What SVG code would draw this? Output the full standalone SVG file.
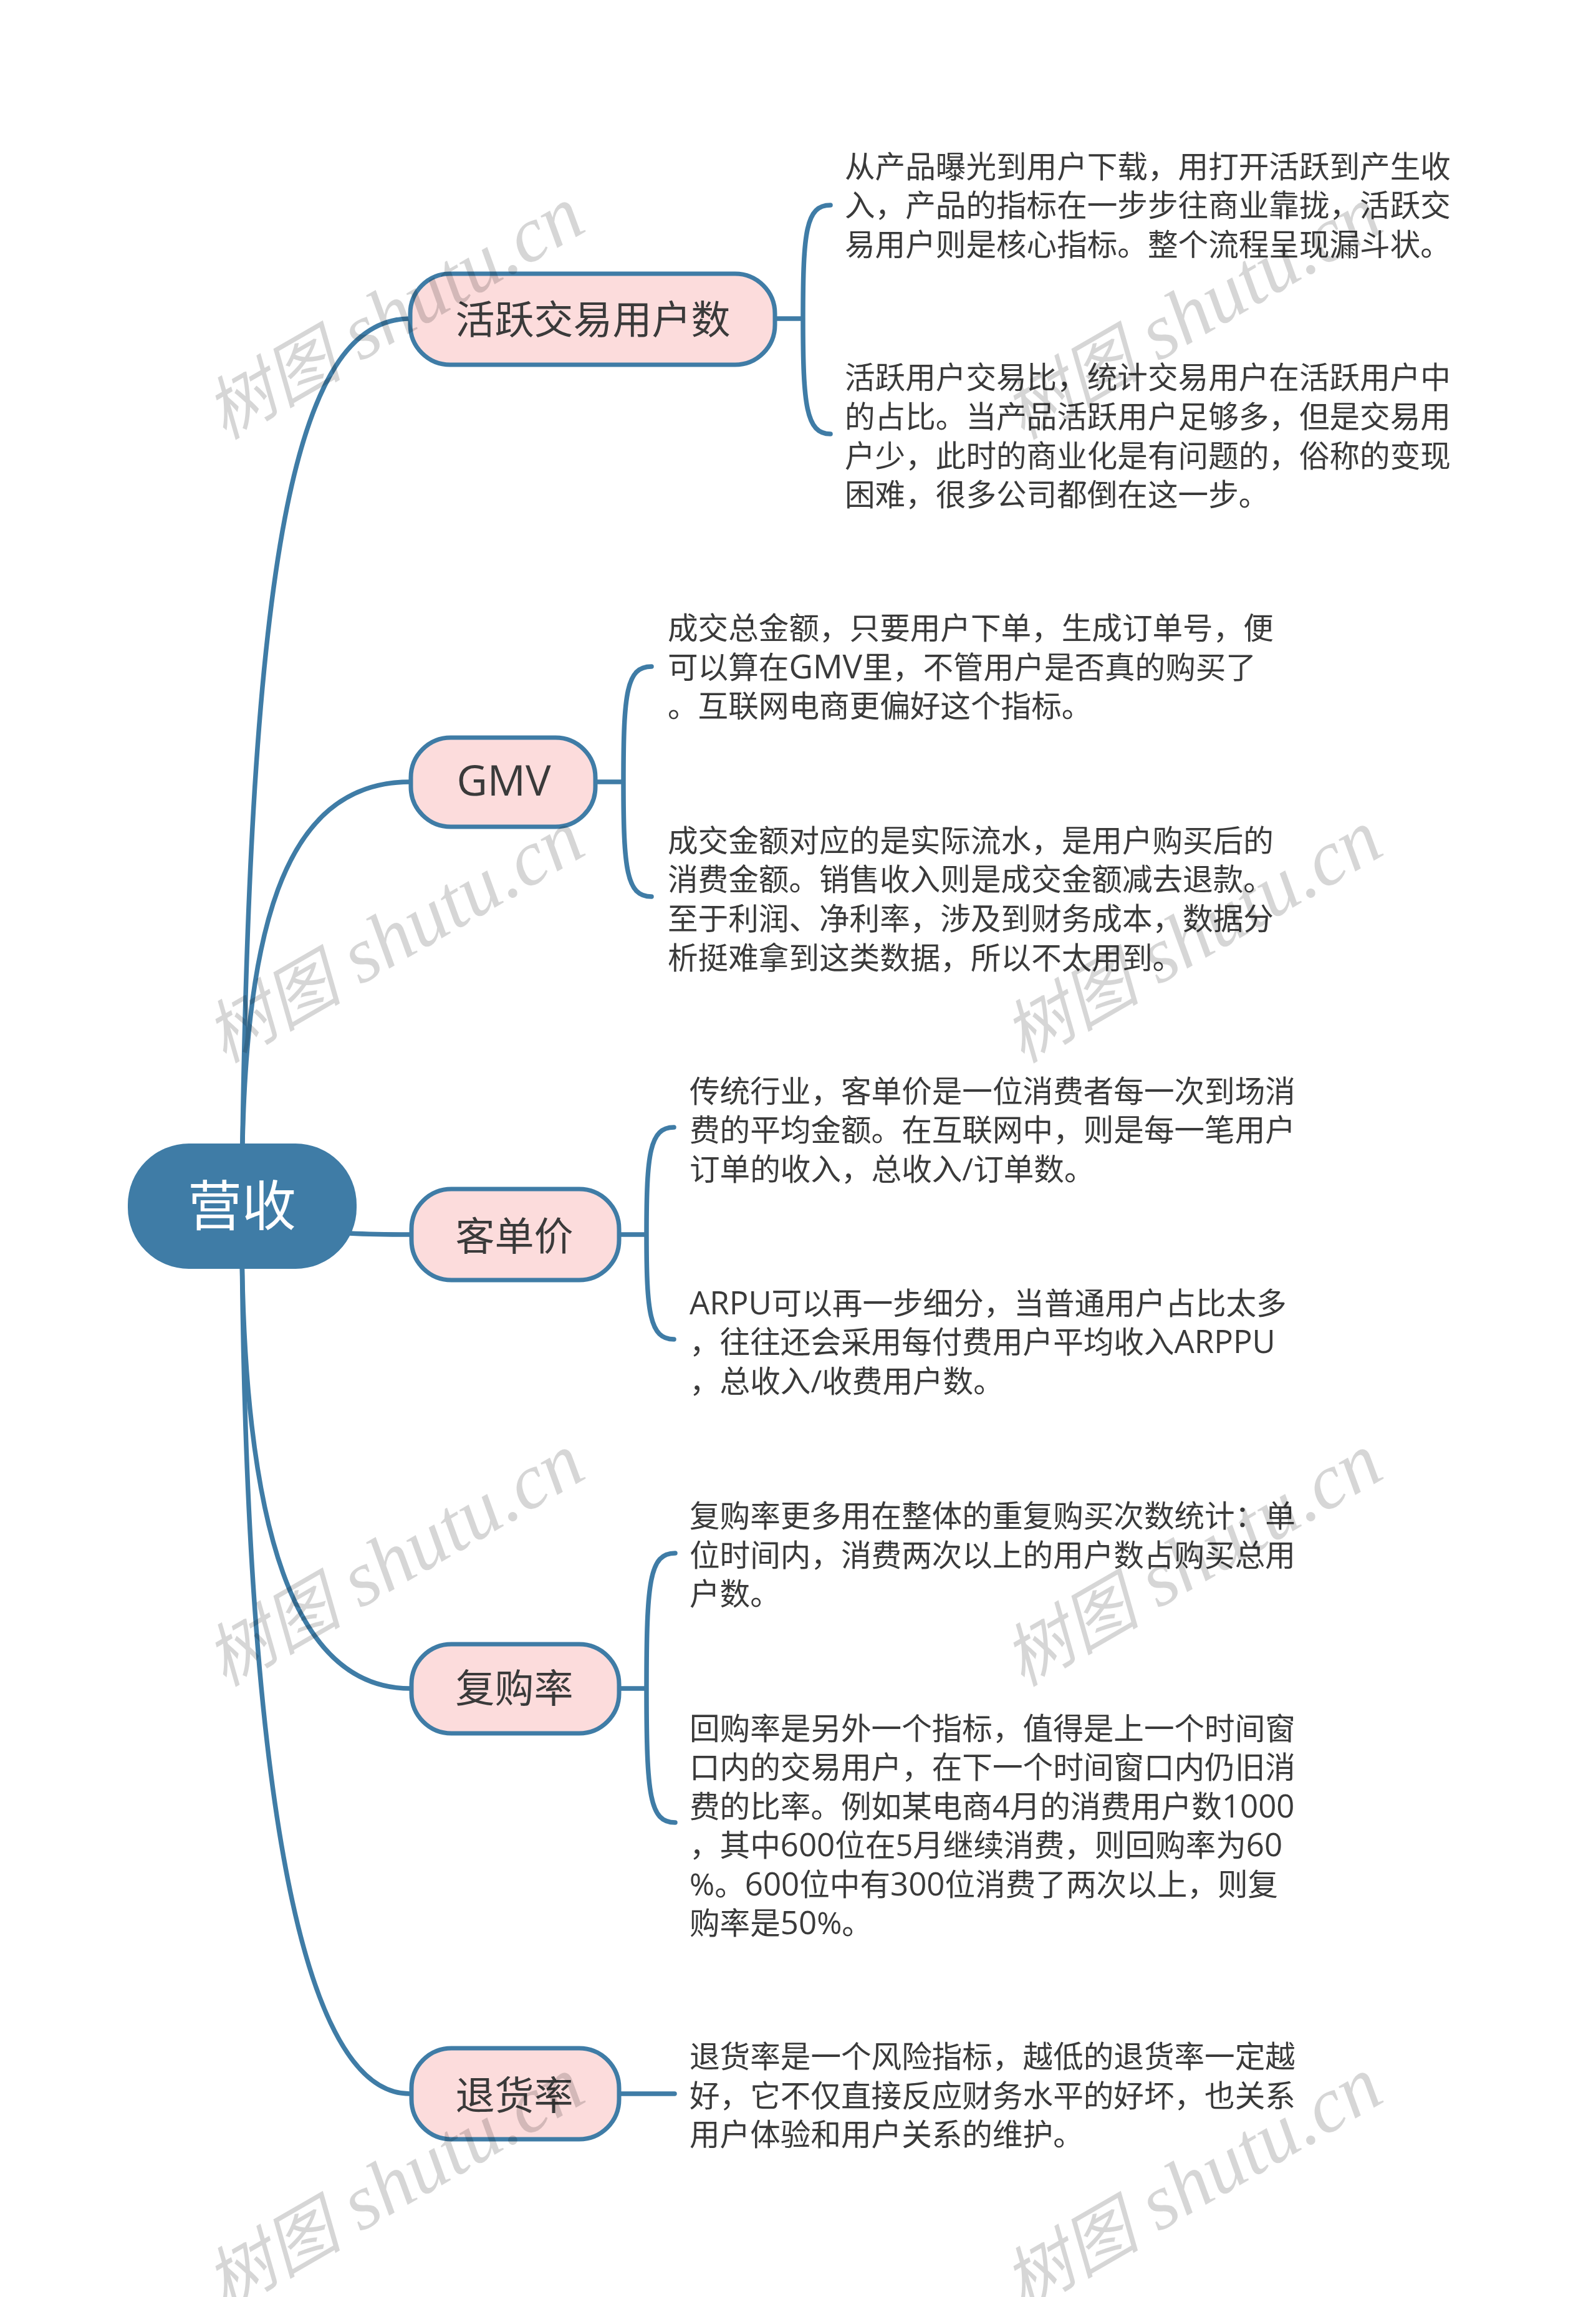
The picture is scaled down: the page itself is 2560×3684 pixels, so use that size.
<svg xmlns="http://www.w3.org/2000/svg" width="2560" height="3684" viewBox="0 0 2560 3684">
<style>
.c{fill:none;stroke:#3f7ca6;stroke-width:7.5;stroke-linecap:round}
.n{fill:#fcdcdc;stroke:#3f7ca6;stroke-width:7}
.l{font-family:"Open Sans","Noto Sans CJK SC",sans-serif;font-size:63px;fill:#3a3a3a;text-anchor:middle}
.t{font-family:"Open Sans","Noto Sans CJK SC",sans-serif;font-size:48.6px;fill:#3a3a3a}
.d{font-size:51px}
.w{font-family:"Liberation Serif","Noto Sans CJK SC",serif;font-style:italic;font-size:126px;fill:#000;fill-opacity:.16}
.w .z{font-family:"Noto Sans CJK SC",serif;font-size:110px}
</style>
<rect width="2560" height="3684" fill="#fff"/>
<g id="connectors">
<path class="c" d="M388 1900C400 900 470 511 658 511"/>
<path class="c" d="M388 1900C390 1500 450 1254 658 1254"/>
<path class="c" d="M560 1978C600 1980 620 1980 657 1980"/>
<path class="c" d="M388 2000C392 2450 470 2708 658 2708"/>
<path class="c" d="M388 2000C395 2800 470 3358 657 3358"/>
<path class="c" d="M1245 511H1288M1332 329C1293 329 1288 370 1288 511C1288 650 1293 696 1332 696"/>
<path class="c" d="M957 1254H1000M1045 1069C1005 1069 1000 1110 1000 1254C1000 1395 1005 1438 1045 1438"/>
<path class="c" d="M995 1980H1037M1081 1808C1042 1808 1037 1850 1037 1980C1037 2105 1042 2148 1081 2148"/>
<path class="c" d="M995 2708H1037M1083 2491C1042 2491 1037 2535 1037 2708C1037 2880 1042 2923 1083 2923"/>
<path class="c" d="M995 3358H1082"/>
</g>
<g id="root"><rect x="205" y="1834" width="367" height="201" rx="98" fill="#3f7ca6"/><text x="388" y="1966" font-family="Noto Sans CJK SC,sans-serif" font-size="87" fill="#fff" text-anchor="middle">营收</text></g>
<g id="node1"><rect class="n" x="658" y="439" width="585" height="146" rx="64"/><text class="l" x="951" y="535">活跃交易用户数</text>
<text class="t"><tspan x="1355" y="285">从产品曝光到用户下载，用打开活跃到产生收</tspan><tspan x="1355" y="347">入，产品的指标在一步步往商业靠拢，活跃交</tspan><tspan x="1355" y="410">易用户则是核心指标。整个流程呈现漏斗状。</tspan></text>
<text class="t"><tspan x="1355" y="623">活跃用户交易比，统计交易用户在活跃用户中</tspan><tspan x="1355" y="686">的占比。当产品活跃用户足够多，但是交易用</tspan><tspan x="1355" y="749">户少，此时的商业化是有问题的，俗称的变现</tspan><tspan x="1355" y="811">困难，很多公司都倒在这一步。</tspan></text></g>
<g id="node2"><rect class="n" x="659" y="1183" width="296" height="143" rx="64"/><text class="l" x="808" y="1276" font-size="68" style="font-size:68px">GMV</text>
<text class="t"><tspan x="1071" y="1025">成交总金额，只要用户下单，生成订单号，便</tspan><tspan x="1071" y="1088">可以算在<tspan style="font-size:53px">GMV</tspan>里，不管用户是否真的购买了</tspan><tspan x="1071" y="1150">。互联网电商更偏好这个指标。</tspan></text>
<text class="t"><tspan x="1071" y="1366">成交金额对应的是实际流水，是用户购买后的</tspan><tspan x="1071" y="1428">消费金额。销售收入则是成交金额减去退款。</tspan><tspan x="1071" y="1491">至于利润、净利率，涉及到财务成本，数据分</tspan><tspan x="1071" y="1554">析挺难拿到这类数据，所以不太用到。</tspan></text></g>
<g id="node3"><rect class="n" x="660" y="1907" width="333" height="146" rx="64"/><text class="l" x="825" y="2005">客单价</text>
<text class="t"><tspan x="1106" y="1768">传统行业，客单价是一位消费者每一次到场消</tspan><tspan x="1106" y="1830">费的平均金额。在互联网中，则是每一笔用户</tspan><tspan x="1106" y="1893">订单的收入，总收入/订单数。</tspan></text>
<text class="t"><tspan x="1106" y="2108"><tspan class="d">ARPU</tspan>可以再一步细分，当普通用户占比太多</tspan><tspan x="1106" y="2170">，往往还会采用每付费用户平均收入<tspan class="d">ARPPU</tspan></tspan><tspan x="1106" y="2233">，总收入/收费用户数。</tspan></text></g>
<g id="node4"><rect class="n" x="660" y="2637" width="333" height="143" rx="64"/><text class="l" x="825" y="2730">复购率</text>
<text class="t"><tspan x="1106" y="2449">复购率更多用在整体的重复购买次数统计：单</tspan><tspan x="1106" y="2512">位时间内，消费两次以上的用户数占购买总用</tspan><tspan x="1106" y="2574">户数。</tspan></text>
<text class="t"><tspan x="1106" y="2790">回购率是另外一个指标，值得是上一个时间窗</tspan><tspan x="1106" y="2852">口内的交易用户，在下一个时间窗口内仍旧消</tspan><tspan x="1106" y="2915">费的比率。例如某电商4月的消费用户数<tspan class="d">1000</tspan></tspan><tspan x="1106" y="2977">，其中<tspan class="d">600</tspan>位在5月继续消费，则回购率为<tspan class="d">60</tspan></tspan><tspan x="1106" y="3040">%。<tspan class="d">600</tspan>位中有<tspan class="d">300</tspan>位消费了两次以上，则复</tspan><tspan x="1106" y="3102">购率是<tspan class="d">50</tspan>%。</tspan></text></g>
<g id="node5"><rect class="n" x="660" y="3285" width="333" height="146" rx="64"/><text class="l" x="825" y="3383">退货率</text>
<text class="t"><tspan x="1106" y="3316">退货率是一个风险指标，越低的退货率一定越</tspan><tspan x="1106" y="3379">好，它不仅直接反应财务水平的好坏，也关系</tspan><tspan x="1106" y="3441">用户体验和用户关系的维护。</tspan></text></g>
<g id="watermarks">
<text class="w" transform="translate(360 706) rotate(-30)"><tspan class="z">树图</tspan> shutu.cn</text>
<text class="w" transform="translate(1640 706) rotate(-30)"><tspan class="z">树图</tspan> shutu.cn</text>
<text class="w" transform="translate(360 1706) rotate(-30)"><tspan class="z">树图</tspan> shutu.cn</text>
<text class="w" transform="translate(1640 1706) rotate(-30)"><tspan class="z">树图</tspan> shutu.cn</text>
<text class="w" transform="translate(360 2706) rotate(-30)"><tspan class="z">树图</tspan> shutu.cn</text>
<text class="w" transform="translate(1640 2706) rotate(-30)"><tspan class="z">树图</tspan> shutu.cn</text>
<text class="w" transform="translate(360 3706) rotate(-30)"><tspan class="z">树图</tspan> shutu.cn</text>
<text class="w" transform="translate(1640 3706) rotate(-30)"><tspan class="z">树图</tspan> shutu.cn</text>
</g>
</svg>
